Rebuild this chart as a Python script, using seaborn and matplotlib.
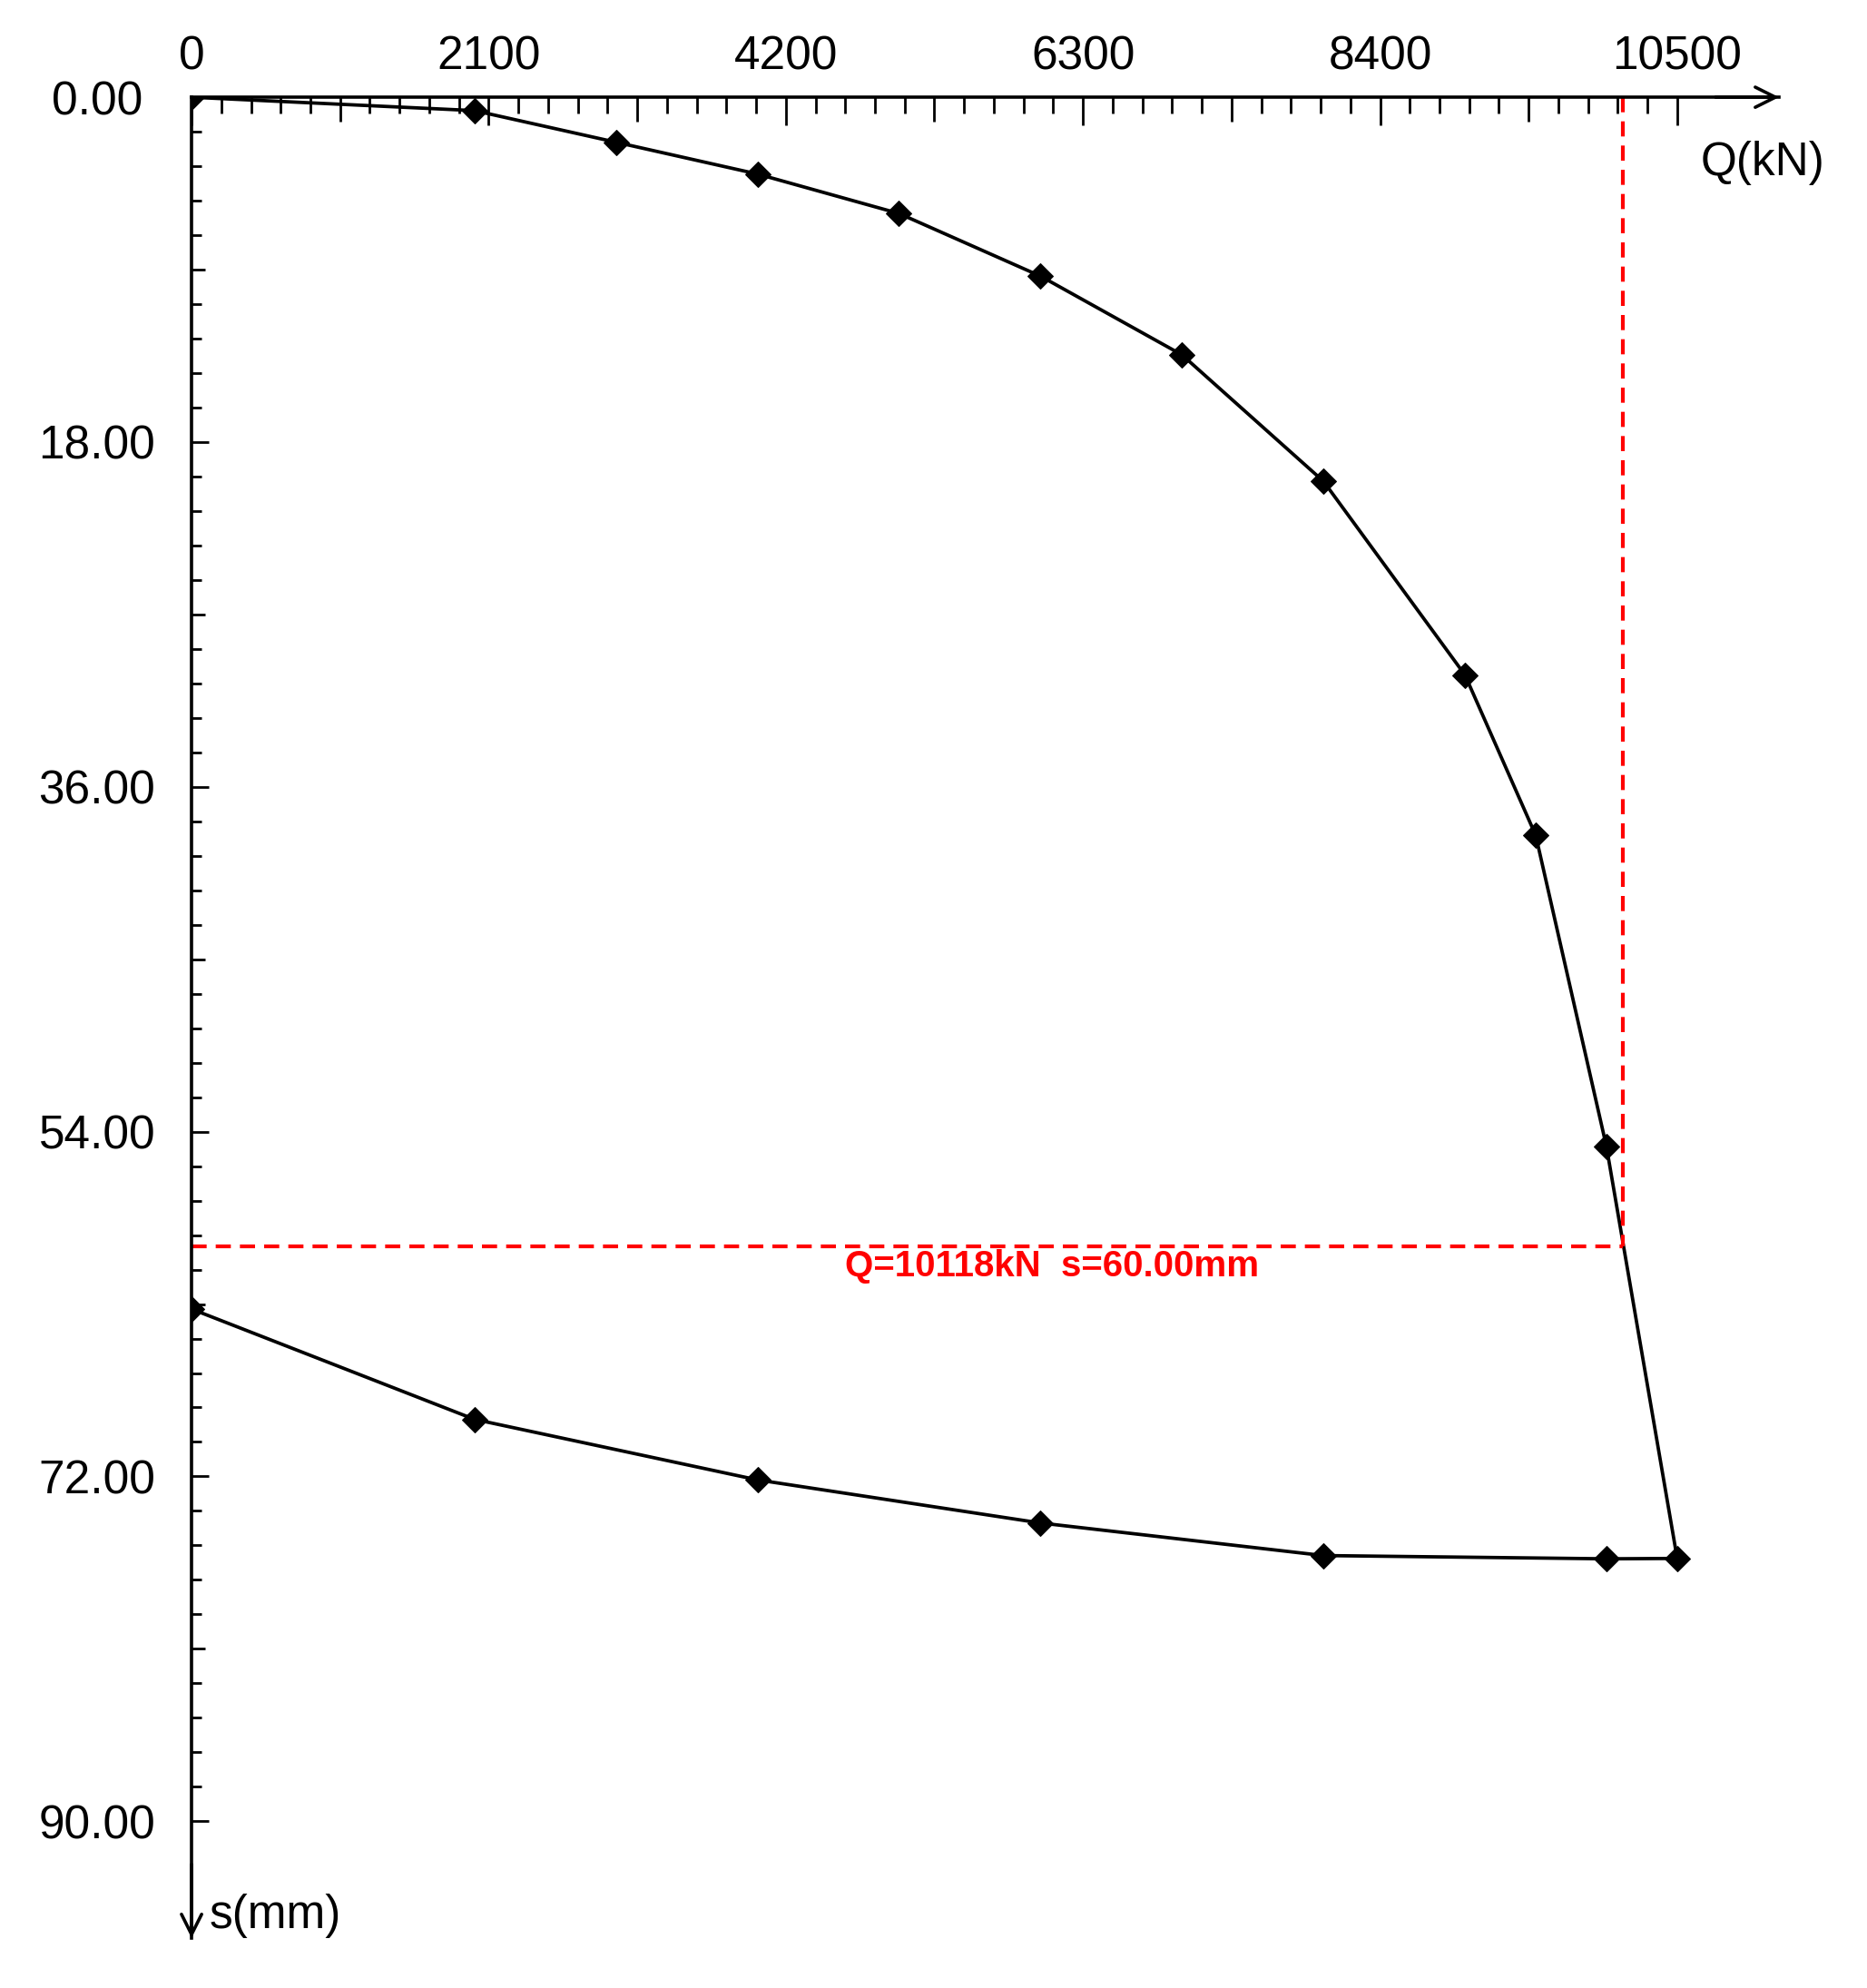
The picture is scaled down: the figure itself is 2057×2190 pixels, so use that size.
import numpy as np
import pandas as pd
import matplotlib
matplotlib.use('Agg')
import matplotlib.pyplot as plt
import seaborn as sns
from matplotlib.ticker import FixedLocator

# Q-s curve, loading branch (kN, mm)
load_q = [0, 2000, 3000, 4000, 5000, 6000, 7000, 8000, 9000, 9500, 10000, 10500]
load_s = [0.0, 0.70, 2.35, 4.01, 6.07, 9.34, 13.45, 20.05, 30.16, 38.53, 54.78, 76.28]

# unloading branch
unload_q = [10500, 10000, 8000, 6000, 4000, 2000, 0]
unload_s = [76.28, 76.30, 76.13, 74.43, 72.18, 69.02, 63.26]

# ultimate capacity read-off
q_ult = 10118
s_ult = 60.00

x_major = [0, 2100, 4200, 6300, 8400, 10500]
x_labels = ['0', '2100', '4200', '6300', '8400', '10500']
y_major = [0, 18, 36, 54, 72, 90]
y_labels = ['0.00', '18.00', '36.00', '54.00', '72.00', '90.00']

curve = pd.DataFrame({'Q': load_q + unload_q[1:], 's': load_s + unload_s[1:]})

sns.set_style('white')
plt.rcParams['font.family'] = ['Liberation Sans', 'DejaVu Sans']

fig = plt.figure(figsize=(20.57, 21.90), dpi=100)
ax = fig.add_axes([0.1026, 0.0251, 0.8503, 0.9260])

sns.lineplot(data=curve, x='Q', y='s', sort=False, estimator=None, color='black',
             lw=2.7, marker='D', markersize=14, markeredgecolor='black', ax=ax)

# red dashed read-off lines
ax.plot([0, q_ult], [s_ult, s_ult], color='red', lw=3.0, dashes=(4, 2.4))
ax.plot([q_ult, q_ult], [0, s_ult], color='red', lw=3.0, dashes=(4, 2.4))
ax.text(0.542, 0.3649, f'Q={q_ult}kN  s={s_ult:.2f}mm', transform=ax.transAxes,
        color='red', fontsize=29, fontweight='bold', ha='center', va='center')

ax.set_xlim(0, 11220)
ax.set_ylim(96.1, 0)
ax.set_xlabel('')
ax.set_ylabel('')

ax.spines['right'].set_visible(False)
ax.spines['bottom'].set_visible(False)
ax.spines['top'].set_linewidth(2.6)
ax.spines['left'].set_linewidth(2.6)
ax.spines['top'].set_color('black')
ax.spines['left'].set_color('black')

# ticks
ax.xaxis.tick_top()
ax.set_xticks(x_major)
ax.set_xticklabels(x_labels)
ax.set_yticks(y_major)
ax.set_yticklabels(y_labels)

x_minor = [v for v in np.arange(0, 10501, 210) if v not in x_major]
y_minor = [v for v in np.arange(0, 90.01, 1.8) if min(abs(v - m) for m in y_major) > 1e-6]
ax.xaxis.set_minor_locator(FixedLocator(x_minor))
ax.yaxis.set_minor_locator(FixedLocator(y_minor))

ax.tick_params(axis='x', which='major', direction='in', length=22, width=2,
               labelsize=37, pad=14, top=True, bottom=False,
               color='black', labelcolor='black')
ax.tick_params(axis='x', which='minor', direction='in', length=13, width=2,
               top=True, bottom=False, color='black')
ax.tick_params(axis='y', which='major', direction='in', length=14, width=2,
               labelsize=37, pad=75, left=True, right=False,
               color='black', labelcolor='black')
ax.tick_params(axis='y', which='minor', direction='in', length=8, width=2,
               left=True, right=False, color='black')

for t in ax.yaxis.get_major_ticks():
    t.label1.set_horizontalalignment('center')

# half-way ticks a bit longer than the rest
for t, v in zip(ax.xaxis.get_minor_ticks(), x_minor):
    if abs(v / 1050 - round(v / 1050)) < 1e-6:
        t.tick2line.set_markersize(19.5)
for t, v in zip(ax.yaxis.get_minor_ticks(), y_minor):
    if abs(v / 9 - round(v / 9)) < 1e-6:
        t.tick1line.set_markersize(11)

# axis arrows
ax.annotate('', xy=(1.0, 1.0), xytext=(0.96, 1.0), xycoords='axes fraction',
            annotation_clip=False,
            arrowprops=dict(arrowstyle='->', color='black', lw=2.6,
                            mutation_scale=40, shrinkA=0, shrinkB=0))
ax.annotate('', xy=(0.0, 0.0), xytext=(0.0, 0.04), xycoords='axes fraction',
            annotation_clip=False,
            arrowprops=dict(arrowstyle='->', color='black', lw=2.6,
                            mutation_scale=40, shrinkA=0, shrinkB=0))

ax.text(0.9897, 0.9645, 'Q(kN)', transform=ax.transAxes, fontsize=37,
        ha='center', va='center', color='black')
ax.text(0.011, 0.0123, 's(mm)', transform=ax.transAxes, fontsize=37,
        ha='left', va='center', color='black')

fig.savefig('out.png', dpi=100)
